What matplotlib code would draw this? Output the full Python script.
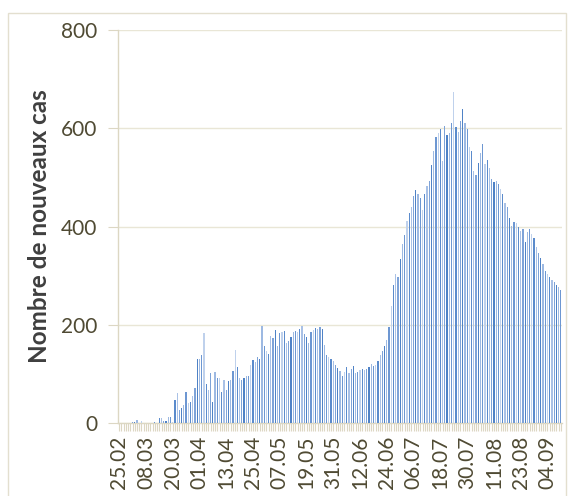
import matplotlib
matplotlib.use("Agg")
import matplotlib.pyplot as plt
import matplotlib.patches as mpatches
import pandas as pd
import numpy as np

# Daily new cases from 25.02.2020 (199 days)
start_date = "2020-02-25"
cases_feb_mar = [1, 0, 0, 0, 0, 0, 3, 3, 7, 0, 4, 0, 1, 1, 0, 0, 3, 1, 10, 10, 5, 5, 13, 13, 3]
cases_mar_apr = [47, 61, 28, 32, 37, 64, 41, 44, 56, 71, 131, 130, 139, 184, 79, 68, 102, 43, 104, 92,
                 93, 63, 88, 68, 86, 89, 107, 149]
cases_apr_may = [115, 93, 88, 92, 97, 96, 118, 129, 125, 134, 131, 198, 157, 147, 140, 177, 173, 190,
                 158, 184, 185, 188, 164, 167, 175, 185]
cases_may_jun = [188, 185, 192, 198, 181, 175, 164, 185, 190, 194, 192, 196, 192, 159, 139, 135, 131,
                 127, 118, 112, 106, 97, 104, 114, 103, 110]
cases_jun_jul = [116, 102, 104, 108, 111, 108, 111, 114, 120, 116, 118, 126, 139, 148, 157, 169, 196,
                 238, 281, 303, 297, 334, 364, 383, 412]
cases_jul = [428, 439, 462, 474, 467, 459, 433, 467, 482, 492, 525, 553, 582, 591, 599, 533, 605, 586,
             591, 611, 673, 603, 592, 614, 639]
cases_jul_aug = [611, 599, 561, 554, 514, 506, 530, 550, 569, 527, 536, 519, 496, 490, 493, 486, 476,
                 467, 448, 440, 418, 401, 409]
cases_aug_sep = [407, 399, 391, 396, 369, 390, 396, 385, 377, 359, 347, 337, 324, 310, 303, 297, 291,
                 288, 282, 278, 271]

cases = (cases_feb_mar + cases_mar_apr + cases_apr_may + cases_may_jun + cases_jun_jul
         + cases_jul + cases_jul_aug + cases_aug_sep)
dates = pd.date_range(start_date, periods=len(cases), freq="D")
date_labels = [d.strftime("%d.%m") for d in dates]
label_step = 12
y_ticks = [0, 200, 400, 600, 800]
y_label = "Nombre de nouveaux cas"

plt.rcParams["font.family"] = ["Lato", "DejaVu Sans"]

W, H = 568, 496
fig = plt.figure(figsize=(W / 100, H / 100), dpi=100)
fig.patch.set_facecolor("white")

# outer chart-area border
border = mpatches.Rectangle((8 / W, -0.05), (566 - 8) / W, (496 - 13) / H + 0.05,
                            transform=fig.transFigure, fill=False,
                            edgecolor="#e3dfcf", linewidth=1.0)
fig.patches.append(border)

ax = fig.add_axes([118 / W, (H - 423.3) / H, (562 - 118) / W, (423.3 - 30) / H])

shades = ["#4f82c6", "#9db9e2", "#6d97d2", "#bfd1ec", "#5b8bcc", "#a9c1e6", "#7ea3d8"]
x = np.arange(len(cases))
colors = [shades[i % len(shades)] for i in range(len(cases))]
ax.bar(x, cases, width=0.55, color=colors, linewidth=0, zorder=3)

ax.set_xlim(-0.5, len(cases) - 0.5)
ax.set_ylim(0, 800)
ax.set_yticks(y_ticks)
ax.set_yticklabels([str(v) for v in y_ticks])
ax.yaxis.grid(True, color="#e9e6d6", linewidth=1.0, zorder=0)
ax.set_axisbelow(True)

major = list(range(0, len(cases), label_step))
ax.set_xticks(major)
ax.set_xticklabels([date_labels[i] for i in major], rotation=90)
ax.set_xticks(x, minor=True)

tick_color = "#4f4a33"
beige = "#dcd7c3"
ax.tick_params(axis="x", which="both", length=6, width=0.8, color=beige,
               labelsize=15, labelcolor=tick_color, pad=3)
ax.tick_params(axis="y", which="major", length=7, width=0.8, color=beige,
               labelsize=15, labelcolor=tick_color, pad=8)

for s in ["top", "right"]:
    ax.spines[s].set_visible(False)
for s in ["left", "bottom"]:
    ax.spines[s].set_color(beige)
    ax.spines[s].set_linewidth(1.0)

fig.text(40 / W, (H - 226) / H, y_label, rotation=90, ha="center", va="center",
         fontsize=17.5, fontweight="bold", color="#3f3f3f")

fig.savefig("out.png", dpi=100)
